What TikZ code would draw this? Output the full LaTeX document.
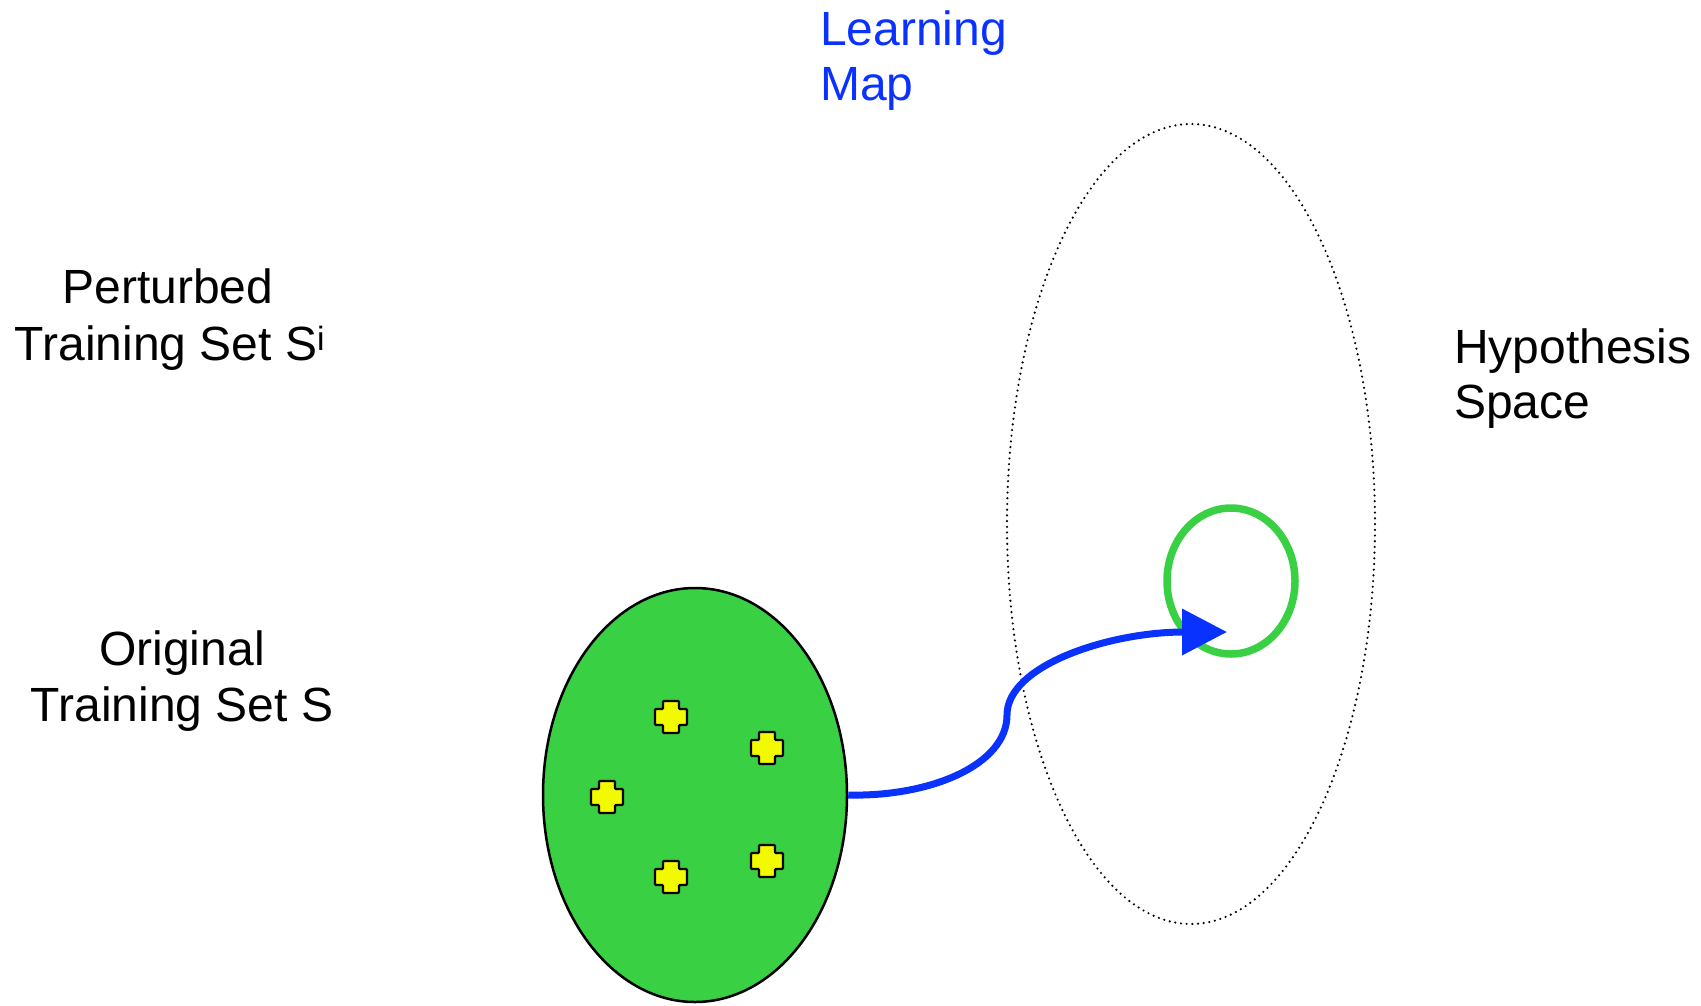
\documentclass[tikz,border=0pt]{standalone}
\usepackage{fontspec}
\setmainfont{Liberation Sans}
\usetikzlibrary{shapes.geometric,arrows.meta}
\definecolor{setgreen}{RGB}{58,208,68}
\definecolor{mapblue}{RGB}{10,50,255}
\definecolor{ptyellow}{RGB}{242,250,0}
\tikzset{
  lbl/.style={inner sep=0pt, font=\fontsize{48}{55}\selectfont},
  plus/.pic={\draw[fill=ptyellow, line width=2.4pt, rounded corners=1pt]
    (-8,-16) -- (8,-16) -- (8,-8) -- (16,-8) -- (16,8) -- (8,8)
    -- (8,16) -- (-8,16) -- (-8,8) -- (-16,8) -- (-16,-8) -- (-8,-8) -- cycle;},
  setshape/.style={draw, ellipse, fill=setgreen, line width=2.5pt, inner sep=0pt},
  hypshape/.style={draw, ellipse, line width=2.4pt, line cap=round, dash pattern=on 0pt off 5.7pt, inner sep=0pt},
  imgshape/.style={draw=setgreen, ellipse, line width=7.5pt, inner sep=0pt},
  maparrow/.style={mapblue, line width=7pt, -{Triangle[length=45pt,width=45pt]}}
}
\begin{document}
\begin{tikzpicture}[x=1pt,y=-1pt]
\useasboundingbox (0,0) rectangle (1701,1005);
\node[hypshape, minimum width=368pt, minimum height=800pt] (H) at (1191,524) {};
\node[setshape, minimum width=304pt, minimum height=414pt] (S) at (695,795) {};
\pic at (671,717) {plus};
\pic at (767,748) {plus};
\pic at (607,797) {plus};
\pic at (671,877) {plus};
\pic at (767,861) {plus};
\node[imgshape, minimum width=128pt, minimum height=146pt] (I) at (1231,581) {};
\coordinate (tip) at (1227,632);
\draw[maparrow] (S.east) .. controls (930,797) and (1007,765) .. (1007,715)
  .. controls (1007,665) and (1110,632) .. (tip);
\node[lbl, anchor=base west, text=mapblue] (lm1) at (820,45) {Learning};
\node[lbl, anchor=base west, text=mapblue] (lm2) at (820,100) {Map};
\node[lbl, anchor=base] (pt1) at (168,303) {Perturbed};
\node[lbl, anchor=base] (pt2) at (170,360) {Training Set S\textsuperscript{i}};
\node[lbl, anchor=base] (ot1) at (182,665) {Original};
\node[lbl, anchor=base] (ot2) at (182,721) {Training Set S};
\node[lbl, anchor=base west] (hs1) at (1454,363) {Hypothesis};
\node[lbl, anchor=base west] (hs2) at (1454,418) {Space};
\end{tikzpicture}
\end{document}
